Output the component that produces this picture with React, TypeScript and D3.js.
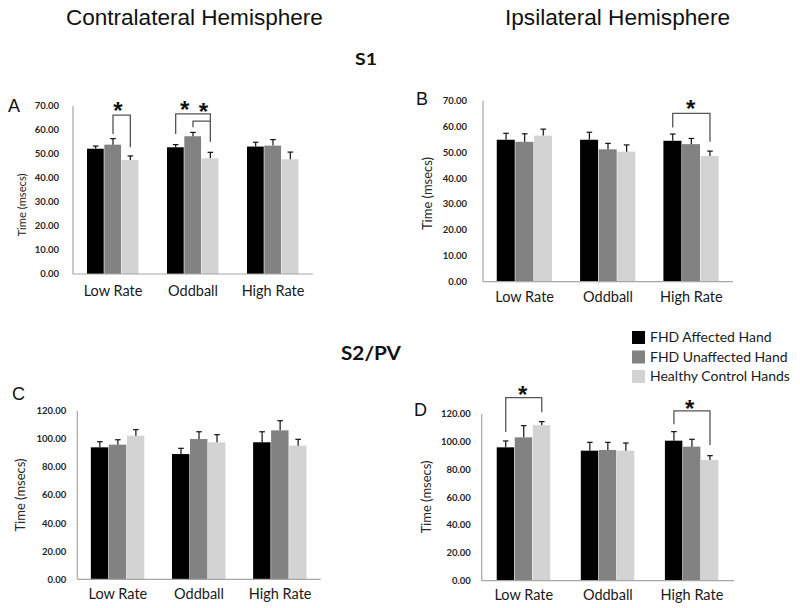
import React from "react";
import * as d3 from "d3";

const categories = ["Low Rate", "Oddball", "High Rate"];
const seriesNames = ["FHD Affected Hand", "FHD Unaffected Hand", "Healthy Control Hands"];

// values[group][series]
const meansA = [[52.2, 53.9, 47.5], [52.8, 57.4, 48.2], [53.1, 53.5, 47.8]];
const errA = [[1.1, 2.5, 1.7], [1.1, 1.6, 2.5], [1.8, 2.5, 3.0]];
const meansB = [[54.9, 54.1, 56.5], [54.9, 51.2, 50.3], [54.5, 53.2, 48.6]];
const errB = [[2.5, 3.1, 2.5], [2.9, 2.3, 2.6], [2.6, 2.2, 1.9]];
const meansC = [[94.1, 96.0, 102.4], [89.3, 100.0, 97.7], [97.7, 106.2, 95.3]];
const errC = [[4.0, 3.5, 4.3], [4.1, 5.2, 5.4], [7.5, 6.9, 4.5]];
const meansD = [[96.0, 103.2, 111.9], [93.6, 94.1, 93.6], [100.8, 96.5, 86.9]];
const errD = [[4.6, 8.4, 2.6], [6.0, 5.5, 5.5], [6.5, 5.3, 3.1]];

const ticksS1 = [0, 10, 20, 30, 40, 50, 60, 70];
const ticksS2 = [0, 20, 40, 60, 80, 100, 120];

// significance brackets: group, from-series, to-series, top value, leg end values, star value, star position (fraction)
const bracketsA = [
  { group: 0, from: 1, to: 2, top: 66.2, fromEnd: 58.3, toEnd: 52.8, star: 70.4, starFrac: 0.29 },
  { group: 1, from: 0, to: 2, top: 66.7, fromEnd: 58.3, toEnd: 55.1, star: 70.8, starFrac: 0.26 },
  { group: 1, from: 1, to: 2, top: 63.7, fromEnd: 61.1, toEnd: 63.7, star: 70.0, starFrac: 0.6 },
];
const bracketsB = [
  { group: 2, from: 0, to: 2, top: 65.1, fromEnd: 59.6, toEnd: 54.1, star: 69.1, starFrac: 0.48 },
];
const bracketsC: any[] = [];
const bracketsD = [
  { group: 0, from: 0, to: 2, top: 131.8, fromEnd: 107.1, toEnd: 121.2, star: 137.3, starFrac: 0.47 },
  { group: 2, from: 0, to: 2, top: 122.2, fromEnd: 112.6, toEnd: 97.7, star: 127.8, starFrac: 0.44 },
];

const colors = ["#000000", "#828282", "#d3d3d3"];

const panels = [
  { label: "A", means: meansA, errs: errA, ticks: ticksS1, brackets: bracketsA,
    x0: 73, x1: 313, yTop: 106, yBot: 274, pi: 0.35, lx: 8, ly: 112,
    tx: 22, ty: 205, tLen: 63, tSize: 11, tickOff: 14, catY: 296 },
  { label: "B", means: meansB, errs: errB, ticks: ticksS1, brackets: bracketsB,
    x0: 483, x1: 733, yTop: 100.7, yBot: 281.7, pi: 0.33, lx: 416, ly: 105,
    tx: 427.5, ty: 193.5, tLen: 73, tSize: 13, tickOff: 16, catY: 301.7 },
  { label: "C", means: meansC, errs: errC, ticks: ticksS2, brackets: bracketsC,
    x0: 77.3, x1: 320.7, yTop: 411, yBot: 579.3, pi: 0.334, lx: 12, ly: 400,
    tx: 20.5, ty: 495, tLen: 73, tSize: 13, tickOff: 11, catY: 599 },
  { label: "D", means: meansD, errs: errD, ticks: ticksS2, brackets: bracketsD,
    x0: 481.7, x1: 734, yTop: 414, yBot: 580.7, pi: 0.357, lx: 414, ly: 416,
    tx: 426.5, ty: 497, tLen: 73, tSize: 13, tickOff: 11, catY: 600 },
];

const calib = "Lato, 'Open Sans', sans-serif";
const arial = "'Liberation Sans', Arial, sans-serif";

function Panel({ p }: { p: any }) {
  const maxV = p.ticks[p.ticks.length - 1];
  const y = d3.scaleLinear().domain([0, maxV]).range([p.yBot, p.yTop]);
  const x = d3.scaleBand().domain(categories).range([p.x0, p.x1]).paddingInner(p.pi).paddingOuter(p.pi / 2);
  const xs = d3.scaleBand().domain(seriesNames).range([0, x.bandwidth()]).padding(0);
  const fmt = d3.format(".2f");
  const cx = (g: number, s: number) => (x(categories[g]) as number) + (xs(seriesNames[s]) as number) + xs.bandwidth() / 2;
  return (
    <g>
      <text x={p.lx} y={p.ly} fontFamily={arial} fontSize={18} fill="#111">{p.label}</text>
      {p.ticks.map((t: number) => (
        <text key={t} x={p.x0 - p.tickOff} y={y(t)} dy="0.35em" textAnchor="end"
          fontFamily={calib} fontSize={9.5} fontWeight={700} fill="#262626">{fmt(t)}</text>
      ))}
      <text transform={`translate(${p.tx},${p.ty}) rotate(-90)`} textAnchor="middle" dy="0.35em"
        fontFamily={calib} fontSize={p.tSize} fill="#262626" textLength={p.tLen} lengthAdjust="spacingAndGlyphs">Time (msecs)</text>
      {p.means.map((row: number[], g: number) =>
        row.map((v: number, s: number) => (
          <rect key={`b${g}${s}`} x={(x(categories[g]) as number) + (xs(seriesNames[s]) as number)}
            y={y(v)} width={xs.bandwidth() - 0.6} height={y(0) - y(v)} fill={colors[s]} />
        ))
      )}
      {p.means.map((row: number[], g: number) =>
        row.map((v: number, s: number) => {
          const c = cx(g, s);
          const top = y(v + p.errs[g][s]);
          return (
            <g key={`e${g}${s}`} stroke="#111" strokeWidth={1.2}>
              <line x1={c} x2={c} y1={y(v)} y2={top} />
              <line x1={c - 2.8} x2={c + 2.8} y1={top} y2={top} />
            </g>
          );
        })
      )}
      <line x1={p.x0} x2={p.x0} y1={y(maxV)} y2={y(0)} stroke="#a6a6a6" strokeWidth={1.2} />
      <line x1={p.x0} x2={p.x1} y1={y(0)} y2={y(0)} stroke="#a6a6a6" strokeWidth={1.2} />
      {categories.map((c) => (
        <text key={c} x={(x(c) as number) + x.bandwidth() / 2} y={p.catY} textAnchor="middle"
          fontFamily={calib} fontSize={14.5} fill="#1a1a1a">{c}</text>
      ))}
      {p.brackets.map((b: any, i: number) => {
        const xa = cx(b.group, b.from);
        const xb = cx(b.group, b.to);
        const sx = xa + (xb - xa) * b.starFrac;
        return (
          <g key={`k${i}`}>
            <path d={`M${xa},${y(b.fromEnd)}V${y(b.top)}H${xb}V${y(b.toEnd)}`} fill="none" stroke="#555" strokeWidth={1.3} />
            <text x={sx} y={y(b.star) + 13.5} textAnchor="middle" fontFamily={arial} fontWeight={700} fontSize={24} fill="#111">*</text>
          </g>
        );
      })}
    </g>
  );
}

export default function App() {
  return (
    <svg width={800} height={608} style={{ position: "absolute", left: 0, top: 0, background: "#fff" }}>
      <rect width={800} height={608} fill="#fff" />
      <text x={194.4} y={25} textAnchor="middle" fontFamily={arial} fontSize={22} fill="#111" textLength={257} lengthAdjust="spacingAndGlyphs">Contralateral Hemisphere</text>
      <text x={617.5} y={25} textAnchor="middle" fontFamily={arial} fontSize={22} fill="#111" textLength={225} lengthAdjust="spacingAndGlyphs">Ipsilateral Hemisphere</text>
      <text x={366} y={64.5} textAnchor="middle" fontFamily={calib} fontWeight={700} fontSize={17} fill="#111" textLength={22} lengthAdjust="spacingAndGlyphs">S1</text>
      <text x={371} y={360} textAnchor="middle" fontFamily={calib} fontWeight={700} fontSize={18} fill="#111" textLength={60} lengthAdjust="spacingAndGlyphs">S2/PV</text>
      {panels.map((p) => <Panel key={p.label} p={p} />)}
      {seriesNames.map((s, i) => (
        <g key={s}>
          <rect x={632} y={331 + i * 19.5} width={13} height={13} fill={colors[i]} />
          <text x={650} y={342 + i * 19.5} fontFamily={calib} fontSize={14} fill="#1a1a1a">{s}</text>
        </g>
      ))}
    </svg>
  );
}
